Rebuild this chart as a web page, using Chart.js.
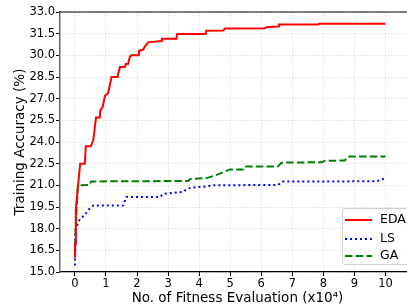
<!DOCTYPE html>
<html><head><meta charset="utf-8">
<script src="https://cdn.jsdelivr.net/npm/chart.js@4/dist/chart.umd.min.js"></script>
<style>
html,body{margin:0;padding:0;background:#fff;overflow:hidden;width:407px;height:307px;}
#wrap{position:relative;width:430px;height:307px;}
#legend{position:absolute;left:342px;top:208px;width:100px;height:57px;border:1px solid #d0d0d0;border-radius:3px;background:rgba(255,255,255,0.8);font-family:'DejaVu Sans',sans-serif;font-size:12.5px;color:#000;box-sizing:border-box;}
.row{position:absolute;left:0;width:100%;height:18px;}
.row svg{position:absolute;left:2px;top:8px;}
.row span{position:absolute;left:37px;top:1px;line-height:16px;}
</style></head>
<body>
<div id="wrap"><canvas id="c" width="430" height="307"></canvas><div id="legend"></div></div>
<script>
const seriesNames = ['EDA', 'LS', 'GA'];
const edaX = [0, 0.01, 0.03, 0.1, 0.17, 0.32, 0.35, 0.51, 0.59, 0.64, 0.68, 0.80, 0.82, 0.89, 0.97, 1.07, 1.18, 1.36, 1.38, 1.45, 1.61, 1.64, 1.71, 1.77, 1.82, 2.04, 2.06, 2.2, 2.25, 2.36, 2.79, 2.80, 3.27, 3.29, 4.21, 4.23, 4.78, 4.83, 6.12, 6.17, 6.54, 6.57, 7.83, 7.86, 10];
const edaY = [16.0, 17.0, 19.3, 21.0, 22.5, 22.5, 23.7, 23.7, 24.1, 25.0, 25.7, 25.7, 26.2, 26.4, 27.2, 27.4, 28.5, 28.5, 28.6, 29.2, 29.2, 29.4, 29.4, 29.9, 30.0, 30.0, 30.3, 30.4, 30.6, 30.9, 31.0, 31.15, 31.15, 31.47, 31.47, 31.7, 31.72, 31.85, 31.88, 31.95, 32.0, 32.14, 32.14, 32.19, 32.19];
const lsX = [0, 0.02, 0.1, 0.16, 0.32, 0.43, 0.59, 1.55, 1.66, 2.74, 2.84, 3.49, 3.6, 3.76, 4.24, 4.45, 6.54, 6.7, 9.71, 10];
const lsY = [15.45, 17.9, 18.4, 18.65, 18.95, 19.3, 19.6, 19.6, 20.2, 20.2, 20.4, 20.55, 20.75, 20.85, 20.92, 21.0, 21.03, 21.26, 21.28, 21.5];
const gaX = [0, 0.03, 0.05, 0.1, 0.48, 0.52, 3.65, 3.7, 4.24, 4.56, 4.99, 5.42, 5.47, 6.54, 6.65, 7.94, 8.05, 8.69, 8.8, 10];
const gaY = [16.0, 18.2, 19.3, 21.0, 21.03, 21.27, 21.3, 21.43, 21.5, 21.72, 22.1, 22.1, 22.3, 22.3, 22.57, 22.6, 22.69, 22.72, 22.99, 22.99];
const xTicks = [0, 1, 2, 3, 4, 5, 6, 7, 8, 9, 10];
const yTicks = [15.0, 16.5, 18.0, 19.5, 21.0, 22.5, 24.0, 25.5, 27.0, 28.5, 30.0, 31.5, 33.0];
const xTitle = 'No. of Fitness Evaluation (x10\u2074)';
const yTitle = 'Training Accuracy (%)';

const colors = ['#ff0000', '#0000ff', '#008000'];
const dashes = [[], [2, 3], [7.5, 3.2]];
const toPts = (xs, ys) => xs.map((x, i) => ({x: x, y: ys[i]}));
const sets = [toPts(edaX, edaY), toPts(lsX, lsY), toPts(gaX, gaY)];

const FONT = 'DejaVu Sans';
const topSpine = {
  id: 'topSpine',
  afterDraw(chart) {
    const {ctx, chartArea} = chart;
    ctx.save();
    ctx.strokeStyle = '#000';
    ctx.lineWidth = 1.2;
    ctx.beginPath();
    ctx.moveTo(chartArea.left, chartArea.top);
    ctx.lineTo(chartArea.right, chartArea.top);
    ctx.stroke();
    ctx.restore();
  }
};

new Chart(document.getElementById('c'), {
  type: 'line',
  data: {
    datasets: seriesNames.map((n, i) => ({
      label: n,
      data: sets[i],
      borderColor: colors[i],
      backgroundColor: colors[i],
      borderWidth: 2,
      borderDash: dashes[i],
      pointRadius: 0,
      tension: 0,
      fill: false
    }))
  },
  options: {
    responsive: false,
    animation: false,
    layout: {padding: {left: 0, top: 12, right: 15, bottom: 0}},
    plugins: {legend: {display: false}, tooltip: {enabled: false}},
    scales: {
      x: {
        type: 'linear', min: -0.48, max: 10.95,
        afterFit: s => { s.height = 35; },
        afterBuildTicks: s => { s.ticks = xTicks.map(v => ({value: v})); },
        ticks: {font: {family: FONT, size: 11.5}, color: '#000', padding: 1, maxRotation: 0, autoSkip: false, callback: v => String(v)},
        grid: {color: 'rgba(0,128,0,0.2)', lineWidth: 0.8, tickColor: '#000', tickLength: 4, tickWidth: 1, tickBorderDash: []},
        border: {color: '#000', width: 1.2, dash: [1.5, 1.5]},
        title: {display: true, text: xTitle, color: '#000', font: {family: FONT, size: 13.5}, padding: {top: 3, bottom: 0}}
      },
      y: {
        type: 'linear', min: 15, max: 33,
        afterFit: s => { s.width = 60; },
        afterBuildTicks: s => { s.ticks = yTicks.map(v => ({value: v})); },
        ticks: {font: {family: FONT, size: 11.5}, color: '#000', padding: 1, autoSkip: false, callback: v => Number(v).toFixed(1)},
        grid: {color: 'rgba(0,128,0,0.2)', lineWidth: 0.8, tickColor: '#000', tickLength: 4, tickWidth: 1, tickBorderDash: []},
        border: {color: '#666', width: 1.5, dash: [1.5, 1.5]},
        title: {display: true, text: yTitle, color: '#000', font: {family: FONT, size: 13.5}, padding: {top: 12, bottom: 0}}
      }
    }
  },
  plugins: [topSpine]
});

// legend
const leg = document.getElementById('legend');
const rowTops = [1, 19.7, 37];
seriesNames.forEach((n, i) => {
  const r = document.createElement('div');
  r.className = 'row';
  r.style.top = rowTops[i] + 'px';
  const da = dashes[i].length ? dashes[i].join(',') : 'none';
  r.innerHTML = '<svg width="28" height="4"><line x1="0" y1="2" x2="27" y2="2" stroke="' + colors[i] + '" stroke-width="2" stroke-dasharray="' + da + '"/></svg>';
  const s = document.createElement('span');
  s.textContent = n;
  r.appendChild(s);
  leg.appendChild(r);
});
</script>
</body></html>
